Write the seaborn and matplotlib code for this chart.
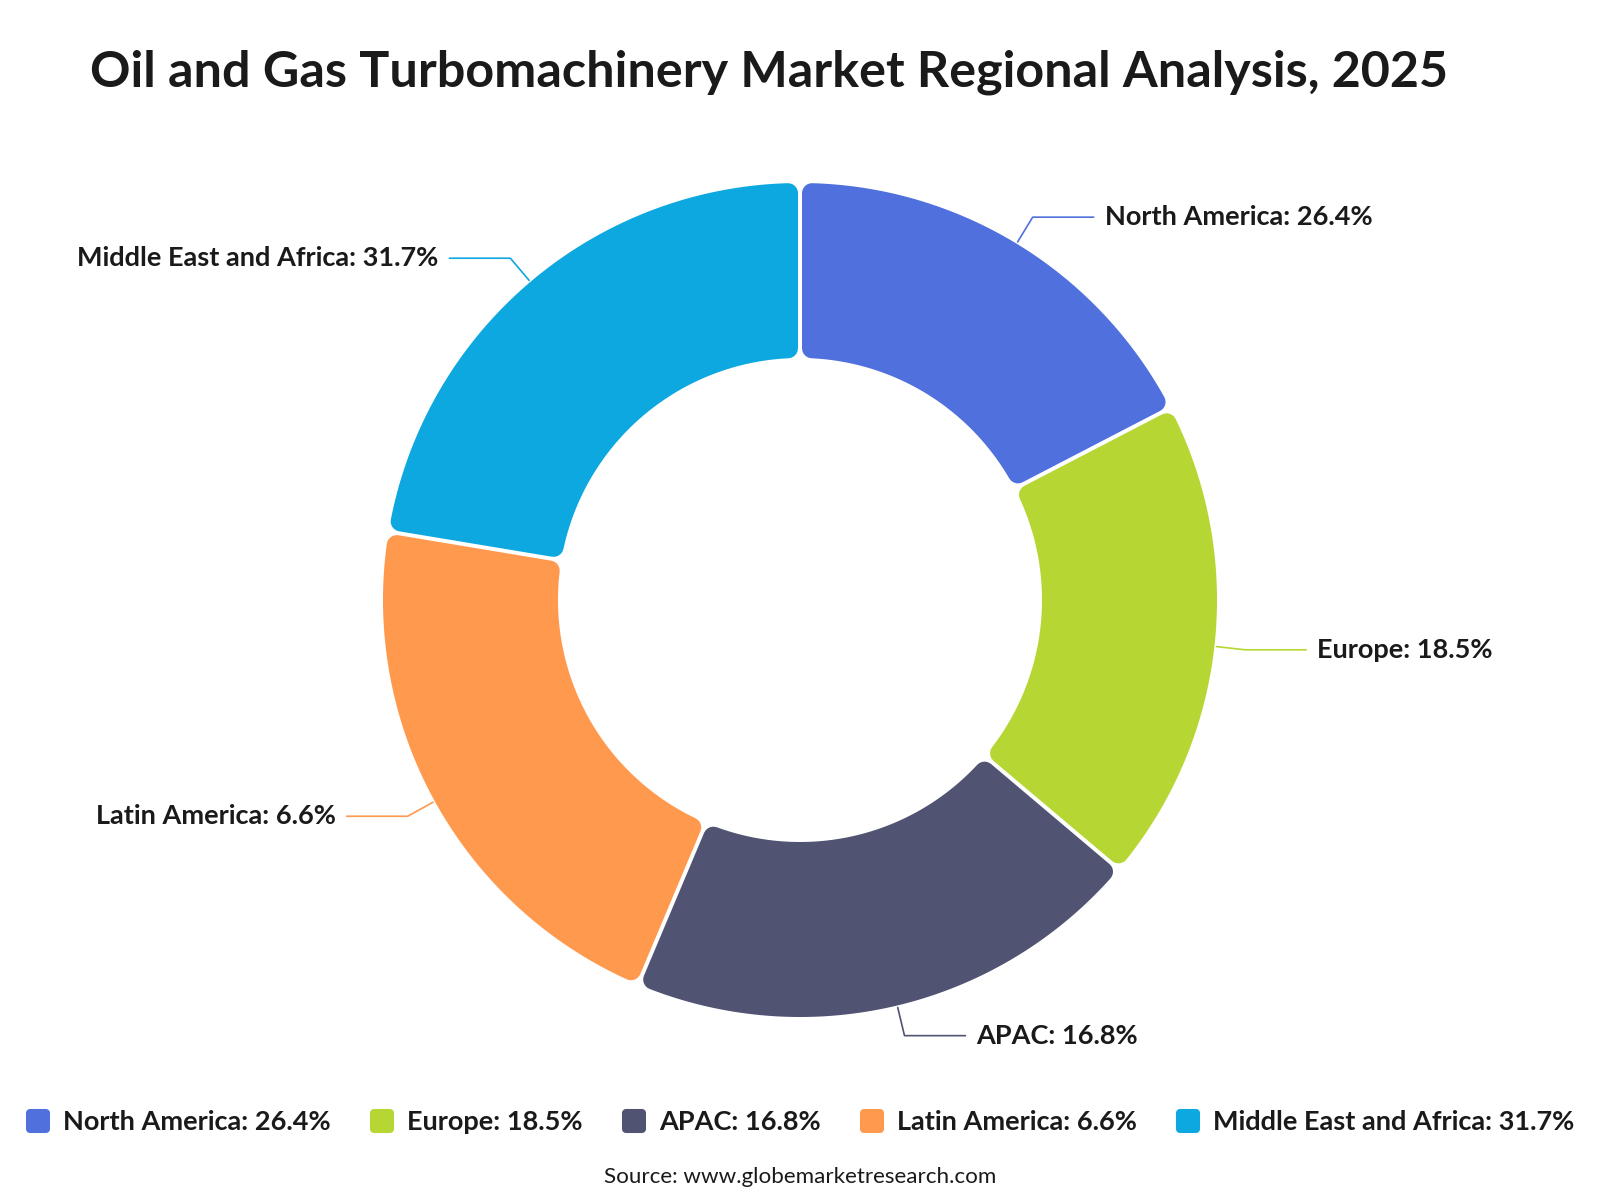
import numpy as np
import matplotlib.pyplot as plt
import seaborn as sns
from matplotlib.patches import Polygon
from matplotlib.lines import Line2D
from matplotlib.markers import MarkerStyle

# data
regions = ['North America', 'Europe', 'APAC', 'Latin America', 'Middle East and Africa']
label_pct = [26.4, 18.5, 16.8, 6.6, 31.7]
# arc sizes as drawn in the chart (they do not follow the label percentages)
arc_share = [17.4, 18.8, 20.2, 21.3, 22.4]
colors = ['#5070dd', '#b6d634', '#505372', '#ff994d', '#0ca8df']

title = 'Oil and Gas Turbomachinery Market Regional Analysis, 2025'
source = 'Source: www.globemarketresearch.com'

sns.set_theme(style='white')
plt.rcParams['font.family'] = ['Lato', 'DejaVu Sans']
txt_col = '#1a1a1a'

fig = plt.figure(figsize=(16, 12), dpi=100)
ax = fig.add_axes([0, 0, 1, 1])
ax.set_xlim(0, 1600)
ax.set_ylim(1200, 0)
ax.axis('off')

# donut geometry (pixels)
cx, cy = 800, 600
R, r = 417, 242
corner, gap = 10, 2


def pt(theta, rho):
    t = np.radians(theta)
    return cx + rho * np.sin(t), cy - rho * np.cos(t)


bounds = np.concatenate([[0], np.cumsum(arc_share)]) / sum(arc_share) * 360
labels = [f'{n}: {v}%' for n, v in zip(regions, label_pct)]

for i, col in enumerate(colors):
    t1, t2 = bounds[i], bounds[i + 1]
    ro, ri = R - corner, r + corner
    d = gap + corner
    do = np.degrees(np.arcsin(d / ro))
    di = np.degrees(np.arcsin(d / ri))
    outer = np.linspace(t1 + do, t2 - do, 120)
    inner = np.linspace(t2 - di, t1 + di, 120)
    ox, oy = pt(outer, ro)
    ix, iy = pt(inner, ri)
    verts = np.column_stack([np.concatenate([ox, ix]), np.concatenate([oy, iy])])
    # thick stroke with round joins gives the rounded corners
    ax.add_patch(Polygon(verts, closed=True, facecolor=col, edgecolor=col,
                         linewidth=2 * corner * 0.72, joinstyle='round'))

    # label with leader line
    mid = (t1 + t2) / 2
    x0, y0 = pt(mid, R + 2)
    x1, y1 = pt(mid, R + 31)
    side = 1 if mid < 180 else -1
    x2 = x1 + side * 61
    ax.plot([x0, x1, x2], [y0, y1, y1], color=col, lw=1.2)
    ax.text(x2 + side * 11, y1, labels[i], ha='left' if side > 0 else 'right',
            va='center', fontsize=19.5, fontweight='bold', color=txt_col)

fig.text(90 / 1600, 1 - 72 / 1200, title, ha='left', va='center',
         fontsize=36.2, fontweight='bold', color=txt_col)

# legend
handles = [Line2D([], [], marker=MarkerStyle('s', joinstyle='round'), linestyle='none',
                  markersize=11.5, markerfacecolor=c, markeredgecolor=c,
                  markeredgewidth=5.8) for c in colors]
fig.legend(handles, labels, loc='center', bbox_to_anchor=(0.5, 1 - 1122 / 1200),
           ncol=5, frameon=False, handlelength=0.9, handletextpad=0.48,
           columnspacing=1.44, borderpad=0,
           prop={'size': 19.5, 'weight': 'bold'}, labelcolor=txt_col)

fig.text(0.5, 1 - 1177 / 1200, source, ha='center', va='center',
         fontsize=16.1, color=txt_col)

plt.savefig('out.png', dpi=100)
